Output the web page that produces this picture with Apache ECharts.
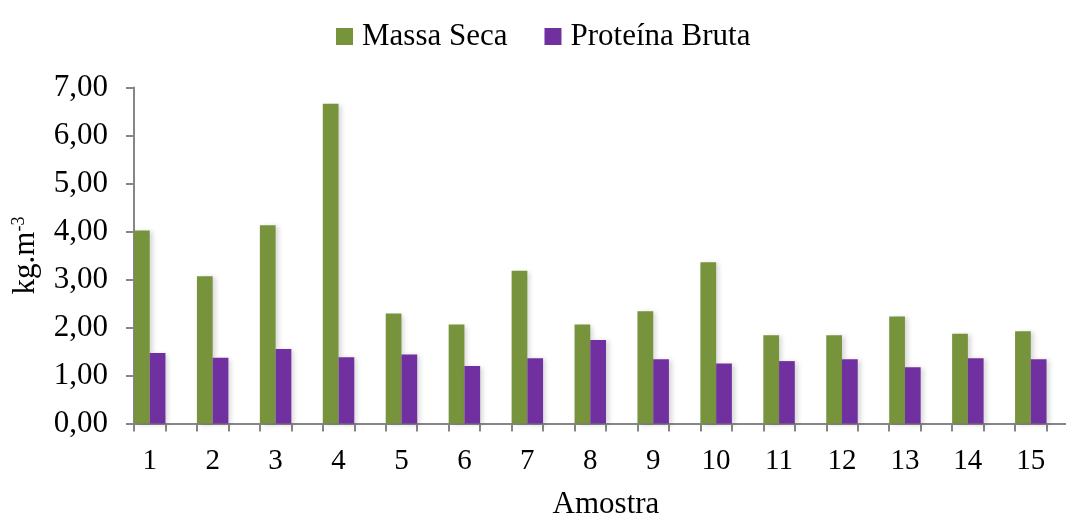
<!DOCTYPE html>
<html>
<head>
<meta charset="utf-8">
<script src="https://cdn.jsdelivr.net/npm/echarts@6/dist/echarts.min.js"></script>
<style>
html,body{margin:0;padding:0;background:#fff;}
#chart{width:1066px;height:518px;}
</style>
</head>
<body>
<div id="chart"></div>
<script>
const categories = ['1','2','3','4','5','6','7','8','9','10','11','12','13','14','15'];
const massaSeca = [4.02,3.07,4.13,6.66,2.29,2.06,3.18,2.06,2.34,3.36,1.84,1.84,2.23,1.87,1.92];
const proteinaBruta = [1.47,1.37,1.55,1.38,1.44,1.20,1.36,1.74,1.34,1.25,1.30,1.34,1.17,1.36,1.34];
const seriesNames = ['Massa Seca','Proteína Bruta'];
const xTitle = 'Amostra';

const FONT = '"Liberation Serif", "Times New Roman", serif';
const tickSlots = categories.flatMap(() => ['', '']);
const barShadow = {shadowColor:'rgba(0,0,0,0.16)', shadowBlur:5, shadowOffsetX:3, shadowOffsetY:1};

const chart = echarts.init(document.getElementById('chart'), null, {renderer:'canvas'});
chart.setOption({
  animation:false,
  backgroundColor:'#ffffff',
  textStyle:{fontFamily:FONT, color:'#000'},
  legend:{
    data:seriesNames,
    left:331, top:16,
    itemWidth:17, itemHeight:17, itemGap:37,
    icon:'rect',
    textStyle:{fontFamily:FONT, fontSize:31, color:'#000', padding:[0,0,0,4]}
  },
  grid:{left:134, top:87.5, bottom:94.5, right:-12, containLabel:false, outerBoundsMode:'none'},
  xAxis:[{
    type:'category', data:categories, position:'bottom',
    boundaryGap:true,
    name:xTitle, nameLocation:'middle', nameGap:66,
    nameTextStyle:{fontFamily:FONT, fontSize:31, color:'#000'},
    axisLine:{show:true, lineStyle:{color:'#868686', width:2}},
    axisTick:{show:false},
    axisLabel:{fontFamily:FONT, fontSize:29, color:'#000', margin:23, interval:0,
      padding:[0,31.5,0,0]},
    splitLine:{show:false}
  },{
    type:'category', data:tickSlots, position:'bottom', gridIndex:0,
    boundaryGap:true,
    axisLine:{show:false},
    axisTick:{show:true, interval:0, length:8, lineStyle:{color:'#868686', width:2}},
    axisLabel:{show:false},
    splitLine:{show:false}
  }],
  yAxis:{
    type:'value', min:0, max:7, interval:1,
    name:'{a|kg.m}{b|-3}', nameLocation:'middle', nameRotate:90, nameGap:93,
    nameTextStyle:{
      fontFamily:FONT, fontSize:31, color:'#000',
      rich:{
        a:{fontFamily:FONT, fontSize:31, color:'#000', lineHeight:31, verticalAlign:'bottom'},
        b:{fontFamily:FONT, fontSize:18, color:'#000', lineHeight:31, verticalAlign:'top', padding:[0,0,14,0]}
      }
    },
    axisLine:{show:true, lineStyle:{color:'#868686', width:2}},
    axisTick:{show:true, length:8, lineStyle:{color:'#868686', width:2}},
    axisLabel:{fontFamily:FONT, fontSize:31, color:'#000', margin:26,
      formatter:(v)=>v.toFixed(2).replace('.', ',')},
    splitLine:{show:false}
  },
  series:[
    {name:seriesNames[0], type:'bar', data:massaSeca, xAxisIndex:0, barWidth:'25%', barGap:0,
      itemStyle:Object.assign({color:'#77933C'}, barShadow)},
    {name:seriesNames[1], type:'bar', data:proteinaBruta, xAxisIndex:0, barWidth:'25%', barGap:0,
      itemStyle:Object.assign({color:'#7030A0'}, barShadow)},
    {name:'spacer', type:'bar', data:[], xAxisIndex:0, barWidth:'50%', barGap:0, silent:true,
      itemStyle:{color:'rgba(0,0,0,0)'}}
  ]
});
</script>
</body>
</html>
